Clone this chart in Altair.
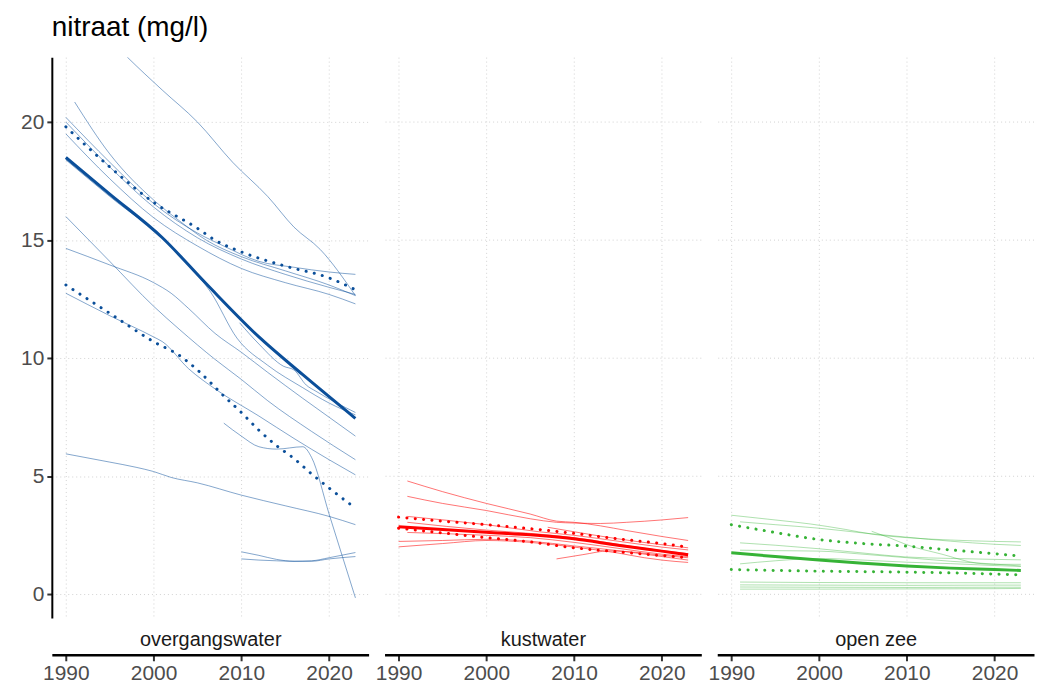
import altair as alt
import pandas as pd

PANELS = ["overgangswater", "kustwater", "open zee"]
COLORS = {"overgangswater": "#0b4f9a", "kustwater": "#ff0000", "open zee": "#36b336"}
THIN_OPACITY = {"overgangswater": 0.5, "kustwater": 0.55, "open zee": 0.4}

X_TICKS = [1990, 2000, 2010, 2020]
Y_TICKS = [0, 5, 10, 15, 20]

# ---------------- overgangswater (blue) ----------------
OW_THICK_YR = [1990, 1995, 2001, 2006, 2012, 2017, 2023]
OW_THICK = [18.5, 16.95, 15.1, 13.15, 10.9, 9.3, 7.45]
OW_DOT_HI_YR = [1990, 1995, 2000, 2005, 2007, 2010, 2015, 2020, 2023]
OW_DOT_HI = [19.8, 18.1, 16.6, 15.5, 15.0, 14.5, 13.9, 13.4, 12.9]
OW_DOT_LO_YR = [1990, 1995, 2000, 2003, 2005, 2008, 2010, 2012, 2014, 2016, 2018, 2020, 2023]
OW_DOT_LO = [13.1, 11.9, 10.7, 10.1, 9.5, 8.4, 7.7, 6.95, 6.3, 5.75, 5.1, 4.5, 3.65]

OW_S1_YR = [1990, 1995, 1997, 2001, 2005, 2009, 2013, 2016, 2019, 2023]
OW_S1 = [25.3, 23.5, 22.75, 21.35, 20.0, 18.3, 16.85, 15.55, 14.6, 12.65]
OW_S2_YR = [1991, 1995, 2000, 2003, 2006, 2010, 2015, 2020, 2023]
OW_S2 = [20.85, 18.65, 16.7, 15.8, 15.0, 14.3, 13.7, 13.1, 12.65]
OW_S3_YR = [1990, 1995, 2000, 2005, 2008, 2012, 2016, 2020, 2023]
OW_S3 = [20.2, 18.3, 16.55, 15.3, 14.75, 14.1, 13.85, 13.65, 13.55]
OW_S4_YR = [1990, 1995, 2000, 2005, 2010, 2015, 2020, 2023]
OW_S4 = [20.0, 18.1, 16.4, 15.1, 14.2, 13.55, 13.0, 12.7]
OW_S5_YR = [1990, 1995, 2000, 2005, 2010, 2015, 2020, 2023]
OW_S5 = [19.5, 17.6, 15.95, 14.75, 13.8, 13.2, 12.7, 12.3]
OW_S6_YR = [1990, 1995, 2000, 2003, 2007, 2010, 2013, 2018, 2023]
OW_S6 = [16.0, 14.1, 12.2, 11.2, 9.95, 9.1, 8.2, 6.9, 5.7]
OW_S7_YR = [1990, 1995, 2000, 2002, 2004, 2007, 2010, 2013, 2017, 2020, 2023]
OW_S7 = [14.65, 13.95, 13.2, 12.75, 12.1, 11.05, 10.25, 9.4, 8.3, 7.5, 6.7]
OW_S8_YR = [1990, 1995, 2000, 2001, 2004, 2007, 2012, 2016, 2020, 2023]
OW_S8 = [12.75, 11.8, 10.9, 10.7, 9.55, 8.7, 7.55, 6.6, 5.7, 5.06]
OW_S9_YR = [1990, 1995, 2002, 2004, 2006.5, 2009.5, 2013, 2017, 2020, 2023]
OW_S9 = [18.4, 16.85, 14.75, 13.95, 12.8, 10.85, 9.7, 8.75, 8.1, 7.6]
OW_S10_YR = [2009.8, 2012, 2014.8, 2016, 2017.4, 2018.5, 2023]
OW_S10 = [11.5, 10.6, 9.66, 9.5, 8.86, 8.6, 7.7]
OW_S11_YR = [1990, 1995, 1998, 2000, 2002, 2005, 2010, 2015, 2020, 2023]
OW_S11 = [5.95, 5.6, 5.38, 5.2, 4.95, 4.72, 4.2, 3.75, 3.3, 2.95]
OW_S12_YR = [2008, 2010, 2012, 2014, 2017, 2018, 2020, 2023]
OW_S12 = [7.25, 6.7, 6.25, 6.15, 6.25, 5.8, 3.4, -0.15]
OW_S13_YR = [2010, 2012, 2014, 2016, 2018, 2020, 2023]
OW_S13 = [1.8, 1.65, 1.48, 1.4, 1.42, 1.55, 1.77]
OW_S14_YR = [2010, 2012, 2014, 2016, 2018, 2020, 2023]
OW_S14 = [1.5, 1.45, 1.42, 1.4, 1.4, 1.5, 1.6]

# ---------------- kustwater (red) ----------------
KW_THICK_YR = [1990, 1995, 2000, 2005, 2010, 2015, 2020, 2023]
KW_THICK = [2.86, 2.75, 2.63, 2.52, 2.35, 2.08, 1.83, 1.68]
KW_DOT_HI_YR = [1990, 1995, 2000, 2005, 2010, 2015, 2020, 2023]
KW_DOT_HI = [3.27, 3.1, 2.95, 2.78, 2.58, 2.35, 2.15, 2.0]
KW_DOT_LO_YR = [1990, 1995, 2000, 2005, 2010, 2015, 2020, 2023]
KW_DOT_LO = [2.8, 2.6, 2.4, 2.22, 1.97, 1.8, 1.64, 1.55]

KW_S1_YR = [1991, 1995, 2000, 2005, 2008, 2010, 2013, 2016, 2020, 2023]
KW_S1 = [4.8, 4.35, 3.85, 3.4, 3.1, 3.05, 2.9, 2.7, 2.45, 2.28]
KW_S2_YR = [1991, 1995, 2000, 2005, 2008, 2010, 2013, 2016, 2020, 2023]
KW_S2 = [4.15, 3.85, 3.55, 3.2, 3.05, 3.02, 3.0, 3.05, 3.15, 3.25]
KW_S3_YR = [1991, 2000, 2006, 2010, 2015, 2020, 2023]
KW_S3 = [3.3, 2.95, 2.65, 2.5, 2.25, 2.0, 1.88]
KW_S4_YR = [1991, 2000, 2005, 2010, 2015, 2020, 2023]
KW_S4 = [3.05, 2.72, 2.58, 2.4, 2.12, 1.85, 1.72]
KW_S5_YR = [1991, 2000, 2005, 2010, 2015, 2020, 2023]
KW_S5 = [2.62, 2.5, 2.4, 2.2, 1.95, 1.7, 1.6]
KW_S6_YR = [1990, 1995, 2000, 2005, 2010, 2015, 2020, 2023]
KW_S6 = [2.24, 2.28, 2.33, 2.25, 2.05, 1.85, 1.6, 1.45]
KW_S7_YR = [1990, 1995, 2000, 2005, 2010, 2015, 2018, 2020, 2023]
KW_S7 = [2.01, 2.15, 2.28, 2.2, 2.0, 1.75, 1.55, 1.45, 1.35]
KW_S8_YR = [2007, 2010, 2015, 2020, 2023]
KW_S8 = [2.84, 2.65, 2.35, 2.1, 1.97]
KW_S9_YR = [2008, 2011, 2014, 2017, 2020, 2023]
KW_S9 = [1.5, 1.68, 1.84, 1.78, 1.65, 1.55]

# ---------------- open zee (green) ----------------
OZ_THICK_YR = [1990, 1995, 2000, 2005, 2010, 2015, 2020, 2023]
OZ_THICK = [1.76, 1.6, 1.45, 1.32, 1.2, 1.11, 1.05, 1.01]
OZ_DOT_HI_YR = [1990, 1995, 2000, 2005, 2010, 2015, 2020, 2023]
OZ_DOT_HI = [2.95, 2.62, 2.32, 2.15, 2.04, 1.88, 1.72, 1.62]
OZ_DOT_LO_YR = [1990, 2000, 2010, 2020, 2023]
OZ_DOT_LO = [1.05, 0.98, 0.94, 0.86, 0.82]

OZ_S1_YR = [1990, 1995, 1999, 2003, 2006, 2010, 2015, 2020, 2023]
OZ_S1 = [3.35, 3.15, 2.98, 2.75, 2.55, 2.4, 2.3, 2.24, 2.22]
OZ_S2_YR = [1991, 1995, 2000, 2005, 2010, 2015, 2020, 2023]
OZ_S2 = [3.07, 2.95, 2.8, 2.6, 2.42, 2.25, 2.12, 2.07]
OZ_S3_YR = [2006, 2008, 2010, 2014, 2018, 2020, 2023]
OZ_S3 = [2.67, 2.4, 2.1, 1.7, 1.32, 1.27, 1.27]
OZ_S4_YR = [1991, 1995, 2000, 2005, 2010, 2015, 2020, 2023]
OZ_S4 = [2.18, 2.08, 1.93, 1.75, 1.58, 1.52, 1.48, 1.46]
OZ_S5_YR = [1991, 1995, 2000, 2005, 2010, 2015, 2020, 2023]
OZ_S5 = [1.87, 1.85, 1.83, 1.7, 1.55, 1.4, 1.28, 1.2]
OZ_S6_YR = [1991, 1995, 2000, 2005, 2010, 2015, 2020, 2023]
OZ_S6 = [1.29, 1.42, 1.52, 1.45, 1.36, 1.3, 1.22, 1.18]
OZ_S7_YR = [1991, 2000, 2010, 2020, 2023]
OZ_S7 = [0.52, 0.5, 0.49, 0.49, 0.49]
OZ_S8_YR = [1991, 2000, 2010, 2020, 2023]
OZ_S8 = [0.4, 0.39, 0.38, 0.39, 0.39]
OZ_S9_YR = [1991, 2000, 2010, 2020, 2023]
OZ_S9 = [0.31, 0.3, 0.29, 0.3, 0.3]
OZ_S10_YR = [1991, 2000, 2010, 2020, 2023]
OZ_S10 = [0.22, 0.22, 0.23, 0.24, 0.25]

SERIES = [
    ("overgangswater", "thick", "mean", OW_THICK_YR, OW_THICK),
    ("overgangswater", "dot", "hi", OW_DOT_HI_YR, OW_DOT_HI),
    ("overgangswater", "dot", "lo", OW_DOT_LO_YR, OW_DOT_LO),
    ("overgangswater", "thin", "s1", OW_S1_YR, OW_S1),
    ("overgangswater", "thin", "s2", OW_S2_YR, OW_S2),
    ("overgangswater", "thin", "s3", OW_S3_YR, OW_S3),
    ("overgangswater", "thin", "s4", OW_S4_YR, OW_S4),
    ("overgangswater", "thin", "s5", OW_S5_YR, OW_S5),
    ("overgangswater", "thin", "s6", OW_S6_YR, OW_S6),
    ("overgangswater", "thin", "s7", OW_S7_YR, OW_S7),
    ("overgangswater", "thin", "s8", OW_S8_YR, OW_S8),
    ("overgangswater", "thin", "s9", OW_S9_YR, OW_S9),
    ("overgangswater", "thin", "s10", OW_S10_YR, OW_S10),
    ("overgangswater", "thin", "s11", OW_S11_YR, OW_S11),
    ("overgangswater", "thin", "s12", OW_S12_YR, OW_S12),
    ("overgangswater", "thin", "s13", OW_S13_YR, OW_S13),
    ("overgangswater", "thin", "s14", OW_S14_YR, OW_S14),
    ("kustwater", "thick", "mean", KW_THICK_YR, KW_THICK),
    ("kustwater", "dot", "hi", KW_DOT_HI_YR, KW_DOT_HI),
    ("kustwater", "dot", "lo", KW_DOT_LO_YR, KW_DOT_LO),
    ("kustwater", "thin", "s1", KW_S1_YR, KW_S1),
    ("kustwater", "thin", "s2", KW_S2_YR, KW_S2),
    ("kustwater", "thin", "s3", KW_S3_YR, KW_S3),
    ("kustwater", "thin", "s4", KW_S4_YR, KW_S4),
    ("kustwater", "thin", "s5", KW_S5_YR, KW_S5),
    ("kustwater", "thin", "s6", KW_S6_YR, KW_S6),
    ("kustwater", "thin", "s7", KW_S7_YR, KW_S7),
    ("kustwater", "thin", "s8", KW_S8_YR, KW_S8),
    ("kustwater", "thin", "s9", KW_S9_YR, KW_S9),
    ("open zee", "thick", "mean", OZ_THICK_YR, OZ_THICK),
    ("open zee", "dot", "hi", OZ_DOT_HI_YR, OZ_DOT_HI),
    ("open zee", "dot", "lo", OZ_DOT_LO_YR, OZ_DOT_LO),
    ("open zee", "thin", "s1", OZ_S1_YR, OZ_S1),
    ("open zee", "thin", "s2", OZ_S2_YR, OZ_S2),
    ("open zee", "thin", "s3", OZ_S3_YR, OZ_S3),
    ("open zee", "thin", "s4", OZ_S4_YR, OZ_S4),
    ("open zee", "thin", "s5", OZ_S5_YR, OZ_S5),
    ("open zee", "thin", "s6", OZ_S6_YR, OZ_S6),
    ("open zee", "thin", "s7", OZ_S7_YR, OZ_S7),
    ("open zee", "thin", "s8", OZ_S8_YR, OZ_S8),
    ("open zee", "thin", "s9", OZ_S9_YR, OZ_S9),
    ("open zee", "thin", "s10", OZ_S10_YR, OZ_S10),
]

rows = []
for panel, kind, name, yrs, vals in SERIES:
    for yr, v in zip(yrs, vals):
        rows.append({"panel": panel, "kind": kind, "line": name, "year": yr, "value": v})
df = pd.DataFrame(rows)
grid_df = pd.DataFrame({"value": Y_TICKS})

FONT = "Liberation Sans"
GRID_COLOR = "#d2d2d2"
GRID_DASH = [1, 3]
X_DOMAIN = [1988.4, 2024.5]
Y_DOMAIN = [-1.0, 22.75]
W, H = 318, 563


def panel_chart(panel, first):
    color = COLORS[panel]
    d = df[df["panel"] == panel]
    x = alt.X(
        "year:Q",
        scale=alt.Scale(domain=X_DOMAIN, nice=False, zero=False),
        axis=alt.Axis(
            values=X_TICKS, format="d", title=panel, titleY=-15,
            titleFontSize=20, titleFontWeight="normal", titleColor="#1a1a1a",
            titleFont=FONT, titleBaseline="middle",
            offset=37, domain=True, domainColor="#000000", domainWidth=2.5,
            ticks=True, tickColor="#333333", tickWidth=2, tickSize=6,
            labelPadding=2, labelFontSize=21, labelColor="#4d4d4d", labelFont=FONT,
            labelFlush=False, grid=True, gridColor=GRID_COLOR, gridDash=GRID_DASH,
        ),
    )
    yscale = alt.Scale(domain=Y_DOMAIN, nice=False, zero=False)
    if first:
        yaxis = alt.Axis(
            values=Y_TICKS, title=None, domain=True, domainColor="#000000",
            domainWidth=2, ticks=True, tickColor="#333333", tickWidth=2,
            tickSize=5, labelPadding=3, labelFontSize=21, labelColor="#4d4d4d",
            labelFont=FONT, minExtent=39, grid=True, gridColor=GRID_COLOR,
            gridDash=GRID_DASH,
        )
    else:
        yaxis = None
    y = alt.Y("value:Q", scale=yscale, axis=yaxis)
    base = alt.Chart(d).encode(x=x, y=y, detail="line:N", order="year:Q")
    thin = base.transform_filter("datum.kind == 'thin'").mark_line(
        color=color, strokeWidth=1, opacity=THIN_OPACITY[panel], interpolate="monotone", clip=True
    )
    thick = base.transform_filter("datum.kind == 'thick'").mark_line(
        color=color, strokeWidth=3, interpolate="monotone", clip=True
    )
    dots = base.transform_filter("datum.kind == 'dot'").mark_line(
        color=color, strokeWidth=3, strokeDash=[0.1, 8.3], strokeCap="round",
        interpolate="monotone", clip=True
    )
    layers = [thin, thick, dots]
    if not first:
        hgrid = alt.Chart(grid_df).mark_rule(
            color=GRID_COLOR, strokeDash=GRID_DASH, strokeWidth=1
        ).encode(y=alt.Y("value:Q", scale=yscale, axis=None))
        layers = [hgrid] + layers
    return alt.layer(*layers).properties(width=W, height=H)


chart = alt.hconcat(
    *[panel_chart(p, i == 0) for i, p in enumerate(PANELS)], spacing=16, bounds="flush"
).properties(
    title=alt.TitleParams(
        "nitraat (mg/l)", anchor="start", fontSize=28, font=FONT,
        fontWeight="normal", color="#000000", dx=39, offset=15,
    ),
    padding={"left": 5, "top": 5, "right": 0, "bottom": 0},
).configure_view(stroke=None)

chart.save("out.html", embed_options={"renderer": "svg", "actions": False})
